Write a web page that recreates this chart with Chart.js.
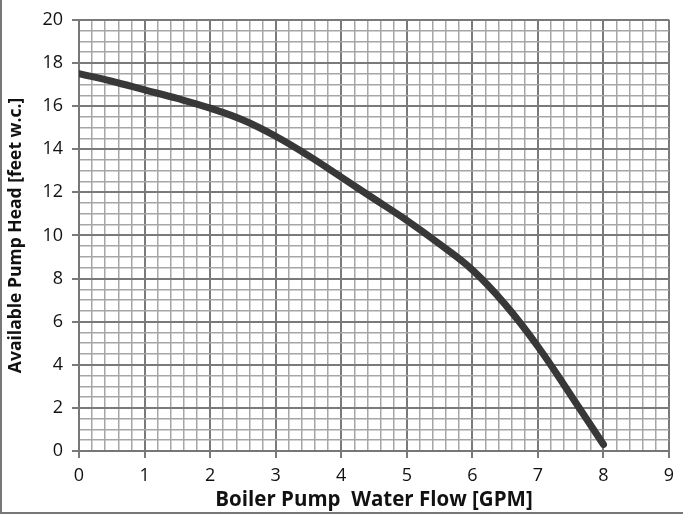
<!DOCTYPE html>
<html>
<head>
<meta charset="utf-8">
<script src="https://cdn.jsdelivr.net/npm/chart.js@4"></script>
<style>
    html, body { margin: 0; padding: 0; background: #fff; }
    #wrap { position: relative; width: 681px; height: 512px; border-left: 2px solid #777; border-bottom: 2px solid #777; }
</style>
</head>
<body>
<div id="wrap"><canvas id="pumpChart" width="681" height="512"></canvas></div>
<script>
const flowGpm = [0, 0.5, 1, 1.5, 2, 2.5, 3, 3.5, 4, 4.5, 5, 5.5, 6, 6.5, 7, 7.5, 8];
const headFt = [17.5, 17.15, 16.75, 16.35, 15.9, 15.35, 14.6, 13.7, 12.7, 11.7, 10.7, 9.6, 8.4, 6.8, 4.85, 2.6, 0.3];
const xTitle = 'Boiler Pump  Water Flow [GPM]';
const yTitle = 'Available Pump Head [feet w.c.]';

const isMult = (v, m) => Math.abs(v / m - Math.round(v / m)) < 1e-6;
const fontFamily = '"Open Sans", sans-serif';

const ctx = document.getElementById('pumpChart').getContext('2d');
new Chart(ctx, {
    type: 'line',
    data: {
        datasets: [{
            data: flowGpm.map((x, i) => ({ x: x, y: headFt[i] })),
            borderColor: '#383838',
            borderWidth: 7,
            borderCapStyle: 'round',
            pointRadius: 0,
            tension: 0.4,
            fill: false
        }]
    },
    options: {
        responsive: false,
        animation: false,
        layout: { padding: { top: 8, right: 14, left: 4, bottom: 0 } },
        plugins: { legend: { display: false }, tooltip: { enabled: false } },
        scales: {
            x: {
                type: 'linear',
                min: 0, max: 9,
                border: { color: '#777', width: 2 },
                grid: {
                    color: c => isMult(c.tick.value, 1) ? '#7a7a7a' : '#a6a6a6',
                    lineWidth: c => isMult(c.tick.value, 1) ? 2 : 1.5,
                    tickColor: c => isMult(c.tick.value, 1) ? '#7a7a7a' : 'rgba(0,0,0,0)',
                    tickLength: 7
                },
                ticks: {
                    stepSize: 0.2,
                    autoSkip: false,
                    maxRotation: 0,
                    color: '#111',
                    font: { family: fontFamily, size: 18 },
                    padding: 7,
                    callback: v => isMult(v, 1) ? String(Math.round(v)) : ''
                },
                title: {
                    display: true,
                    text: xTitle,
                    color: '#111',
                    font: { family: fontFamily, size: 20.5, weight: 'bold' },
                    padding: { top: -5, bottom: 0 }
                },
                afterFit: s => { s.height = 61; }
            },
            y: {
                min: 0, max: 20,
                border: { color: '#777', width: 2 },
                grid: {
                    color: c => isMult(c.tick.value, 2) ? '#7a7a7a' : '#a6a6a6',
                    lineWidth: c => isMult(c.tick.value, 2) ? 2 : 1.5,
                    tickColor: c => isMult(c.tick.value, 2) ? '#7a7a7a' : 'rgba(0,0,0,0)',
                    tickLength: 7
                },
                ticks: {
                    stepSize: 0.5,
                    autoSkip: false,
                    color: '#111',
                    font: { family: fontFamily, size: 18 },
                    padding: 9,
                    callback: v => isMult(v, 2) ? String(Math.round(v)) : ''
                },
                title: {
                    display: true,
                    text: yTitle,
                    color: '#111',
                    font: { family: fontFamily, size: 17.5, weight: 'bold' },
                    padding: { top: 0, bottom: 0 }
                },
                afterFit: s => { s.width = 73; }
            }
        }
    }
});
</script>
</body>
</html>
